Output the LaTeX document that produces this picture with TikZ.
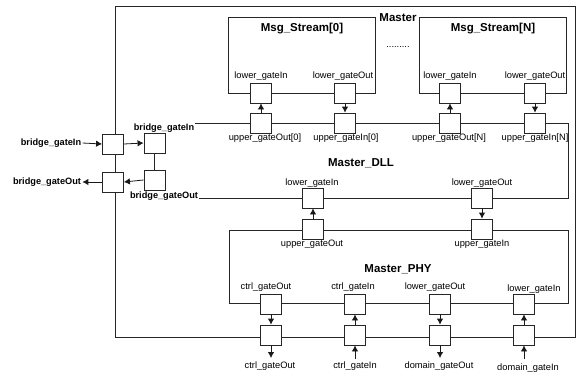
\documentclass[tikz,border=0pt]{standalone}
\usepackage{fontspec}
\setmainfont{Liberation Sans}
\usetikzlibrary{arrows.meta}
\begin{document}
\begin{tikzpicture}[x=1pt,y=-1pt, line width=0.8pt,
  box/.style={draw=black!85, line width=0.8pt, inner sep=0pt},
  port/.style={draw=black!85, line width=0.8pt, fill=white, minimum width=21pt, minimum height=20pt, inner sep=0pt},
  lbl/.style={font=\fontsize{9.3}{11}\selectfont, inner sep=1pt},
  blbl/.style={font=\bfseries\fontsize{9.2}{11}\selectfont, inner sep=1pt},
  ttl/.style={font=\bfseries\fontsize{11.5}{13}\selectfont, inner sep=1pt},
  arr/.style={draw=black!90, -{Latex[length=6pt,width=6.5pt]}}
]
\useasboundingbox (0,0) rectangle (583,372);
% boxes
\node[box, minimum width=460pt, minimum height=331pt] (master) at (345,171.5) {};
\node[box, minimum width=147pt, minimum height=76pt] (s0) at (301.5,55) {};
\node[box, minimum width=147pt, minimum height=76pt] (sN) at (492.5,55) {};
\node[box, minimum width=414pt, minimum height=75pt] (dll) at (361,160.5) {};
\node[box, minimum width=339pt, minimum height=73pt] (phy) at (398.5,266.5) {};
% titles
\node[ttl] (tmaster) at (398,18) {Master};
\node[ttl] (ts0) at (302,29) {Msg\_Stream[0]};
\node[ttl] (tsN) at (493,29) {Msg\_Stream[N]};
\node[lbl] (dots) at (398,47) {.........};
\node[ttl] (tdll) at (361,163) {Master\_DLL};
\node[ttl] (tphy) at (398,269) {Master\_PHY};
% stream ports
\node[port] (s0in) at (261,93) {};
\node[port] (s0out) at (345,93) {};
\node[port] (s0uo) at (261,123) {};
\node[port] (s0ui) at (345,123) {};
\node[port] (sNin) at (450,93) {};
\node[port] (sNout) at (535,93) {};
\node[port] (sNuo) at (450,123) {};
\node[port] (sNui) at (535,123) {};
% dll/phy ports
\node[port] (dlin) at (313,198) {};
\node[port] (dlout) at (482,198) {};
\node[port] (phuo) at (313,229) {};
\node[port] (phui) at (482,229) {};
% phy bottom ports
\node[port] (p1) at (271,304) {};
\node[port] (p2) at (355,304) {};
\node[port] (p3) at (440,304) {};
\node[port] (p4) at (524,304) {};
\node[port] (o1) at (271,335) {};
\node[port] (o2) at (355,335) {};
\node[port] (o3) at (440,335) {};
\node[port] (o4) at (524,335) {};
% bridge ports
\node[port] (bl1) at (113,144) {};
\node[port] (bl2) at (113,182) {};
\node[port] (br1) at (154.5,143) {};
\node[port] (br2) at (154.5,180) {};
% labels
\node[lbl] (l1) at (261,76) {lower\_gateIn};
\node[lbl] (l2) at (343,76) {lower\_gateOut};
\node[lbl] (l3) at (265,138) {upper\_gateOut[0]};
\node[lbl] (l4) at (346,138) {upper\_gateIn[0]};
\node[lbl] (l5) at (450,76) {lower\_gateIn};
\node[lbl] (l6) at (535,76) {lower\_gateOut};
\node[lbl] (l7) at (449,138) {upper\_gateOut[N]};
\node[lbl] (l8) at (535,138) {upper\_gateIn[N]};
\node[lbl] (l9) at (312,183) {lower\_gateIn};
\node[lbl] (l10) at (482,183) {lower\_gateOut};
\node[lbl] (l11) at (312,244) {upper\_gateOut};
\node[lbl] (l12) at (482,244) {upper\_gateIn};
\node[lbl] (l13) at (266,287) {ctrl\_gateOut};
\node[lbl] (l14) at (353,287) {ctrl\_gateIn};
\node[lbl] (l15) at (435,287) {lower\_gateOut};
\node[lbl] (l16) at (534,289) {lower\_gateIn};
\node[lbl] (l17) at (270,366) {ctrl\_gateOut};
\node[lbl] (l18) at (355,366) {ctrl\_gateIn};
\node[lbl] (l19) at (439,366) {domain\_gateOut};
\node[lbl] (l20) at (528,368) {domain\_gateIn};
\node[blbl, fill=white] (bgi) at (164,128) {bridge\_gateIn};
\node[blbl, fill=white] (bgo) at (164,196) {bridge\_gateOut};
\node[blbl] (xbgi) at (51,143) {bridge\_gateIn};
\node[blbl] (xbgo) at (47,182) {bridge\_gateOut};
% arrows
\draw[arr] (s0uo.north) -- (s0in.south);
\draw[arr] (s0out.south) -- (s0ui.north);
\draw[arr] (sNuo.north) -- (sNin.south);
\draw[arr] (sNout.south) -- (sNui.north);
\draw[arr] (phuo.north) -- (dlin.south);
\draw[arr] (dlout.south) -- (phui.north);
\draw[arr] (p1.south) -- (o1.north);
\draw[arr] (o2.north) -- (p2.south);
\draw[arr] (p3.south) -- (o3.north);
\draw[arr] (o4.north) -- (p4.south);
\coordinate (e1) at (271,358);
\coordinate (e2) at (355,359);
\coordinate (e3) at (440,358);
\coordinate (e4) at (524,359);
\draw[arr] (o1.south) -- (e1);
\draw[arr] (e2) -- (o2.south);
\draw[arr] (o3.south) -- (e3);
\draw[arr] (e4) -- (o4.south);
\draw[arr] (xbgi.east) -- (bl1.west);
\draw[arr] (bl1.east) -- (br1.west);
\draw[arr] (br2.west) -- (bl2.east);
\draw[arr] (bl2.west) -- (xbgo.east);
\end{tikzpicture}
\end{document}
